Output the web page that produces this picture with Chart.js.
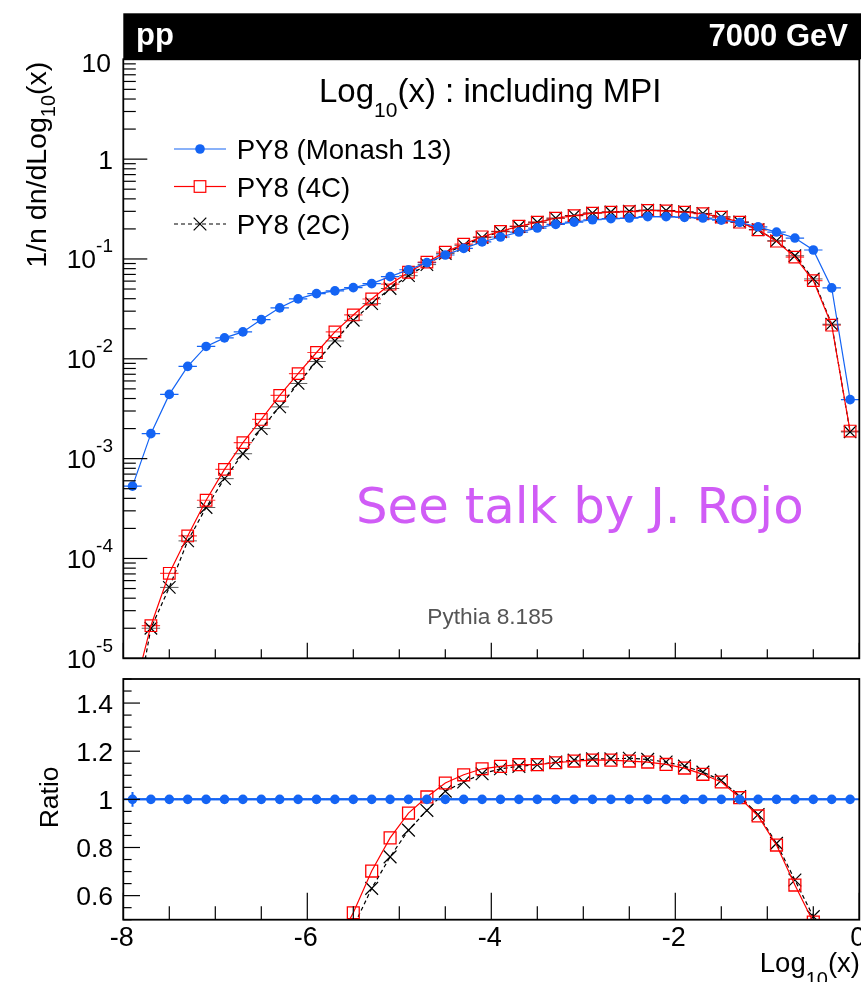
<!DOCTYPE html>
<html><head><meta charset="utf-8">
<script src="https://cdn.jsdelivr.net/npm/chart.js@4.4.1/dist/chart.umd.min.js"></script>
<style>
html,body{margin:0;padding:0;background:#fff;}
#wrap{position:relative;width:861px;height:982px;overflow:hidden;background:#fff;}
#wrap canvas{position:absolute;left:0;top:0;}
</style></head><body>
<div id="wrap"><canvas id="topc" width="861" height="982"></canvas><canvas id="botc" width="861" height="982"></canvas></div>
<script>
// ---------------- data ----------------
const binCenters = [-7.9,-7.7,-7.5,-7.3,-7.1,-6.9,-6.7,-6.5,-6.3,-6.1,-5.9,-5.7,-5.5,-5.3,-5.1,-4.9,-4.7,-4.5,-4.3,-4.1,-3.9,-3.7,-3.5,-3.3,-3.1,-2.9,-2.7,-2.5,-2.3,-2.1,-1.9,-1.7,-1.5,-1.3,-1.1,-0.9,-0.7,-0.5,-0.3,-0.1];
const binHalfWidth = 0.1;
const monash13 = [5.3e-4,1.78e-3,4.4e-3,8.4e-3,0.0133,0.0162,0.0186,0.0247,0.0324,0.0398,0.045,0.0479,0.0516,0.0566,0.0665,0.078,0.092,0.1096,0.1277,0.148,0.166,0.186,0.204,0.222,0.234,0.247,0.253,0.257,0.265,0.265,0.261,0.257,0.245,0.232,0.21,0.186,0.162,0.123,0.0513,3.9e-3];
const tune4C = [4e-6,2.12e-5,7.1e-5,1.68e-4,3.83e-4,7.8e-4,1.445e-3,2.47e-3,4.3e-3,7.1e-3,0.01156,0.0186,0.0275,0.0397,0.0559,0.0736,0.0929,0.117,0.1407,0.1668,0.1887,0.2128,0.2334,0.2557,0.2712,0.2873,0.2942,0.2979,0.306,0.3034,0.2949,0.2837,0.2626,0.2336,0.1955,0.1507,0.1043,0.0607,0.0217,1.89e-3];
const tune2C = [2e-6,2.0e-5,5.13e-5,1.5e-4,3.24e-4,6.3e-4,1.12e-3,2.0e-3,3.3e-3,5.66e-3,9.4e-3,0.0151,0.0243,0.0357,0.0506,0.068,0.0878,0.1133,0.1369,0.1637,0.1871,0.2115,0.2334,0.2564,0.2721,0.2885,0.2955,0.301,0.309,0.306,0.297,0.286,0.2644,0.2348,0.1968,0.152,0.1077,0.0631,0.0222,1.85e-3];
const ratioMonash = [1,1,1,1,1,1,1,1,1,1,1,1,1,1,1,1,1,1,1,1,1,1,1,1,1,1,1,1,1,1,1,1,1,1,1,1,1,1,1,1];
const ratioMonashErr = [0.031,0,0,0,0,0,0,0,0,0,0,0,0,0,0,0,0,0,0,0,0,0,0,0,0,0,0,0,0,0,0,0,0,0,0,0,0,0,0,0];
const ratio4C = [null,null,null,null,null,null,null,null,null,null,0.257,0.388,0.529,0.702,0.84,0.943,1.01,1.068,1.102,1.127,1.137,1.144,1.144,1.152,1.159,1.163,1.163,1.159,1.155,1.145,1.13,1.104,1.072,1.007,0.931,0.81,0.644,0.49,0.42,0.45];
const ratio2C = [null,null,null,null,null,null,null,null,null,null,0.21,0.315,0.47,0.63,0.761,0.872,0.954,1.034,1.072,1.106,1.127,1.137,1.144,1.155,1.163,1.168,1.168,1.171,1.166,1.155,1.138,1.113,1.079,1.012,0.937,0.817,0.665,0.513,0.43,0.44];
const seriesNames = ['PY8 (Monash 13)','PY8 (4C)','PY8 (2C)'];
const logTickValues = [1e-5,1e-4,1e-3,1e-2,1e-1,1,10];
const logTickLabels = [['10','-5'],['10','-4'],['10','-3'],['10','-2'],['10','-1'],['1',''],['10','']];
const ratioTickValues = [0.6,0.8,1,1.2,1.4];
const ratioTickLabels = ['0.6','0.8','1','1.2','1.4'];
const xTickValues = [-8,-6,-4,-2,0];
const xTickLabels = ['-8','-6','-4','-2','0'];

// ---------------- styling ----------------
const BLUE = '#1464f4', RED = '#ff0000', BLACK = '#000000';
const FAM = '"Liberation Sans", Arial, Helvetica, sans-serif';

function pts(ys){ return binCenters.map((x,i)=>({x:x, y:ys[i]})); }

function rich(ctx, parts, x, y, align){
  let total = 0;
  const ws = parts.map(p=>{ ctx.font = (p[3]||'') + ' ' + p[1] + 'px ' + FAM; const w = ctx.measureText(p[0]).width; total += w; return w; });
  let cx = align==='right' ? x-total : (align==='center' ? x-total/2 : x);
  ctx.textAlign = 'left'; ctx.textBaseline = 'alphabetic';
  parts.forEach((p,i)=>{ ctx.font = (p[3]||'') + ' ' + p[1] + 'px ' + FAM; ctx.fillText(p[0], cx, y+(p[2]||0)); cx += ws[i]; });
}

function drawErrBars(chart){
  const ctx = chart.ctx, a = chart.chartArea, xs = chart.scales.x, ys = chart.scales.y;
  ctx.save();
  ctx.beginPath(); ctx.rect(a.left, a.top, a.right-a.left, a.bottom-a.top); ctx.clip();
  chart.data.datasets.forEach(ds=>{
    if(!ds.errX) return;
    ctx.strokeStyle = ds.errColor; ctx.lineWidth = ds.errWidth;
    ds.data.forEach((pt,i)=>{
      if(pt.y==null) return;
      const py = ys.getPixelForValue(pt.y);
      ctx.beginPath();
      ctx.moveTo(xs.getPixelForValue(pt.x-ds.errX), py);
      ctx.lineTo(xs.getPixelForValue(pt.x+ds.errX), py);
      ctx.stroke();
      if(ds.errY && ds.errY[i]){
        const px = xs.getPixelForValue(pt.x);
        ctx.beginPath();
        ctx.moveTo(px, ys.getPixelForValue(pt.y-ds.errY[i]));
        ctx.lineTo(px, ys.getPixelForValue(pt.y+ds.errY[i]));
        ctx.stroke();
      }
    });
  });
  ctx.restore();
}

function tickLine(ctx, x1,y1,x2,y2){ ctx.beginPath(); ctx.moveTo(x1,y1); ctx.lineTo(x2,y2); ctx.stroke(); }

// ---------------- top panel ----------------
const topDeco = {
  id:'topDeco',
  beforeDatasetsDraw(chart){ drawErrBars(chart); },
  afterDraw(chart){
    const ctx = chart.ctx, a = chart.chartArea, xs = chart.scales.x, ys = chart.scales.y;
    ctx.save();
    // header band
    ctx.fillStyle = '#000';
    ctx.fillRect(a.left, 13.3, 861-a.left, a.top-13.3);
    ctx.fillStyle = '#fff';
    rich(ctx, [['pp',31,0,'bold']], 136, 45, 'left');
    rich(ctx, [['7000 GeV',31,0,'bold']], 848, 46, 'right');
    // frame
    ctx.strokeStyle = '#000'; ctx.lineWidth = 1.8;
    ctx.strokeRect(a.left, a.top, a.right-a.left, a.bottom-a.top);
    // y ticks
    ctx.lineWidth = 1.2;
    logTickValues.forEach(v=>{ const p = ys.getPixelForValue(v); tickLine(ctx, a.left, p, a.left+24, p); });
    for(let e=-5;e<1;e++){ for(let k=2;k<=9;k++){ const p = ys.getPixelForValue(k*Math.pow(10,e)); tickLine(ctx, a.left, p, a.left+12.5, p); } }
    // x ticks
    for(let v=-8; v<=0.001; v+=0.5){ const p = xs.getPixelForValue(v); const L = (Math.abs(v%2)<1e-6)?15.6:9; tickLine(ctx, p, a.bottom, p, a.bottom-L); }
    // y tick labels
    ctx.fillStyle = '#000';
    logTickValues.forEach((v,i)=>{
      const p = ys.getPixelForValue(v);
      const lab = logTickLabels[i];
      if(v===10){ rich(ctx, [[lab[0],26.5]], 111, p+13, 'right'); }
      else if(lab[1]===''){ rich(ctx, [[lab[0],26.5]], 113, p+9.5, 'right'); }
      else { rich(ctx, [[lab[0],26.5],[lab[1],19,-16]], 113, p+9.5, 'right'); }
    });
    // y title (rotated)
    ctx.save();
    ctx.translate(46, 61.7); ctx.rotate(-Math.PI/2);
    rich(ctx, [['1/n dn/dLog',28.5],['10',20,9],['(x)',28.5]], 0, 0, 'right');
    ctx.restore();
    // title
    rich(ctx, [['Log',33],['10',21,15],['(x) : including MPI',33]], 319, 101.7, 'left');
    // legend
    const rows = [159, 196.5, 234];
    const lx1 = 174, lx2 = 226, mx = 200;
    let my = rows[0]-10;
    ctx.strokeStyle = BLUE; ctx.lineWidth = 1.2; tickLine(ctx, lx1, my, lx2, my);
    ctx.fillStyle = BLUE; ctx.beginPath(); ctx.arc(mx, my, 4.8, 0, 2*Math.PI); ctx.fill();
    my = rows[1]-10;
    ctx.strokeStyle = RED; ctx.lineWidth = 1.2;
    tickLine(ctx, lx1, my, mx-5.8, my); tickLine(ctx, mx+5.8, my, lx2, my);
    ctx.strokeRect(mx-5.8, my-5.8, 11.6, 11.6);
    my = rows[2]-10;
    ctx.strokeStyle = BLACK; ctx.lineWidth = 1.2;
    ctx.setLineDash([4,3]); tickLine(ctx, lx1, my, lx2, my); ctx.setLineDash([]);
    tickLine(ctx, mx-6.3, my-6.3, mx+6.3, my+6.3); tickLine(ctx, mx-6.3, my+6.3, mx+6.3, my-6.3);
    ctx.fillStyle = '#000';
    seriesNames.forEach((n,i)=> rich(ctx, [[n,27.6]], 236.7, rows[i], 'left'));
    // annotations
    ctx.fillStyle = '#d05cf6';
    ctx.font = '49.8px "DejaVu Sans", Verdana, sans-serif'; ctx.textAlign = 'left'; ctx.textBaseline='alphabetic';
    ctx.fillText('See talk by J. Rojo', 356, 522.7);
    ctx.fillStyle = '#555555';
    rich(ctx, [['Pythia 8.185',22.7]], 427.3, 624, 'left');
    ctx.restore();
  }
};

new Chart(document.getElementById('topc'), {
  type:'line',
  data:{ datasets:[
    { label:seriesNames[0], data:pts(monash13), borderColor:BLUE, backgroundColor:BLUE, borderWidth:1.2, pointStyle:'circle', pointRadius:4.8, pointBorderWidth:0, pointBackgroundColor:BLUE, pointBorderColor:BLUE, tension:0, errX:binHalfWidth, errColor:BLUE, errWidth:1.2 },
    { label:seriesNames[1], data:pts(tune4C), borderColor:RED, backgroundColor:'rgba(0,0,0,0)', borderWidth:1.2, pointStyle:'rect', pointRadius:8.2, pointBorderWidth:1.2, pointBackgroundColor:'rgba(0,0,0,0)', pointBorderColor:RED, tension:0, errX:binHalfWidth, errColor:'rgba(255,0,0,0.75)', errWidth:1.2 },
    { label:seriesNames[2], data:pts(tune2C), borderColor:BLACK, backgroundColor:'rgba(0,0,0,0)', borderWidth:1.2, borderDash:[4,3], pointStyle:'crossRot', pointRadius:8.8, pointBorderWidth:1.2, pointBorderColor:BLACK, tension:0, errX:binHalfWidth, errColor:'rgba(0,0,0,0.8)', errWidth:0.8 }
  ]},
  options:{
    responsive:false, animation:false, devicePixelRatio:1,
    layout:{ autoPadding:false, padding:{ left:123.3, right:1.7, top:59.3, bottom:323.7 } },
    plugins:{ legend:{display:false}, tooltip:{enabled:false} },
    scales:{
      x:{ type:'linear', min:-8, max:0, display:false },
      y:{ type:'logarithmic', min:1e-5, max:10, display:false }
    }
  },
  plugins:[topDeco]
});

// ---------------- ratio panel ----------------
const botDeco = {
  id:'botDeco',
  beforeDatasetsDraw(chart){ drawErrBars(chart); },
  afterDraw(chart){
    const ctx = chart.ctx, a = chart.chartArea, xs = chart.scales.x, ys = chart.scales.y;
    ctx.save();
    ctx.strokeStyle = '#000'; ctx.lineWidth = 1.8;
    ctx.strokeRect(a.left, a.top, a.right-a.left, a.bottom-a.top);
    ctx.lineWidth = 1.2;
    for(let v=0.5; v<=1.5001; v+=0.05){ const p = ys.getPixelForValue(v); const maj = ratioTickValues.some(t=>Math.abs(t-v)<1e-6); tickLine(ctx, a.left, p, a.left+(maj?16.7:8.3), p); }
    for(let v=-8; v<=0.001; v+=0.5){ const p = xs.getPixelForValue(v); const L = (Math.abs(v%2)<1e-6)?27:13.5; tickLine(ctx, p, a.bottom, p, a.bottom-L); }
    ctx.fillStyle = '#000';
    ratioTickValues.forEach((v,i)=>{ const p = ys.getPixelForValue(v); rich(ctx, [[ratioTickLabels[i],26.5]], 113, p+9.5, 'right'); });
    xTickValues.forEach((v,i)=>{ const p = xs.getPixelForValue(v); rich(ctx, [[xTickLabels[i],27]], p-1.5, 945.5, 'center'); });
    rich(ctx, [['Log',27.5],['10',20,14],['(x)',27.5]], 860, 971.7, 'right');
    ctx.save();
    ctx.translate(58, ys.getPixelForValue(1)-2); ctx.rotate(-Math.PI/2);
    rich(ctx, [['Ratio',26.5]], 0, 0, 'center');
    ctx.restore();
    ctx.restore();
  }
};

new Chart(document.getElementById('botc'), {
  type:'line',
  data:{ datasets:[
    { label:seriesNames[0], data:pts(ratioMonash), borderColor:BLUE, backgroundColor:BLUE, borderWidth:2, pointStyle:'circle', pointRadius:4.8, pointBorderWidth:0, pointBackgroundColor:BLUE, pointBorderColor:BLUE, tension:0, errX:binHalfWidth, errColor:BLUE, errWidth:2, errY:ratioMonashErr },
    { label:seriesNames[1], data:pts(ratio4C), borderColor:RED, backgroundColor:'rgba(0,0,0,0)', borderWidth:1.2, pointStyle:'rect', pointRadius:8.4, pointBorderWidth:1.3, pointBackgroundColor:'rgba(0,0,0,0)', pointBorderColor:RED, tension:0 },
    { label:seriesNames[2], data:pts(ratio2C), borderColor:BLACK, backgroundColor:'rgba(0,0,0,0)', borderWidth:1.2, borderDash:[4,3], pointStyle:'crossRot', pointRadius:9, pointBorderWidth:1.2, pointBorderColor:BLACK, tension:0 }
  ]},
  options:{
    responsive:false, animation:false, devicePixelRatio:1,
    layout:{ autoPadding:false, padding:{ left:123.3, right:1.7, top:679, bottom:62.3 } },
    plugins:{ legend:{display:false}, tooltip:{enabled:false} },
    scales:{
      x:{ type:'linear', min:-8, max:0, display:false },
      y:{ type:'linear', min:0.5, max:1.5, display:false }
    }
  },
  plugins:[botDeco]
});
</script>
</body></html>
